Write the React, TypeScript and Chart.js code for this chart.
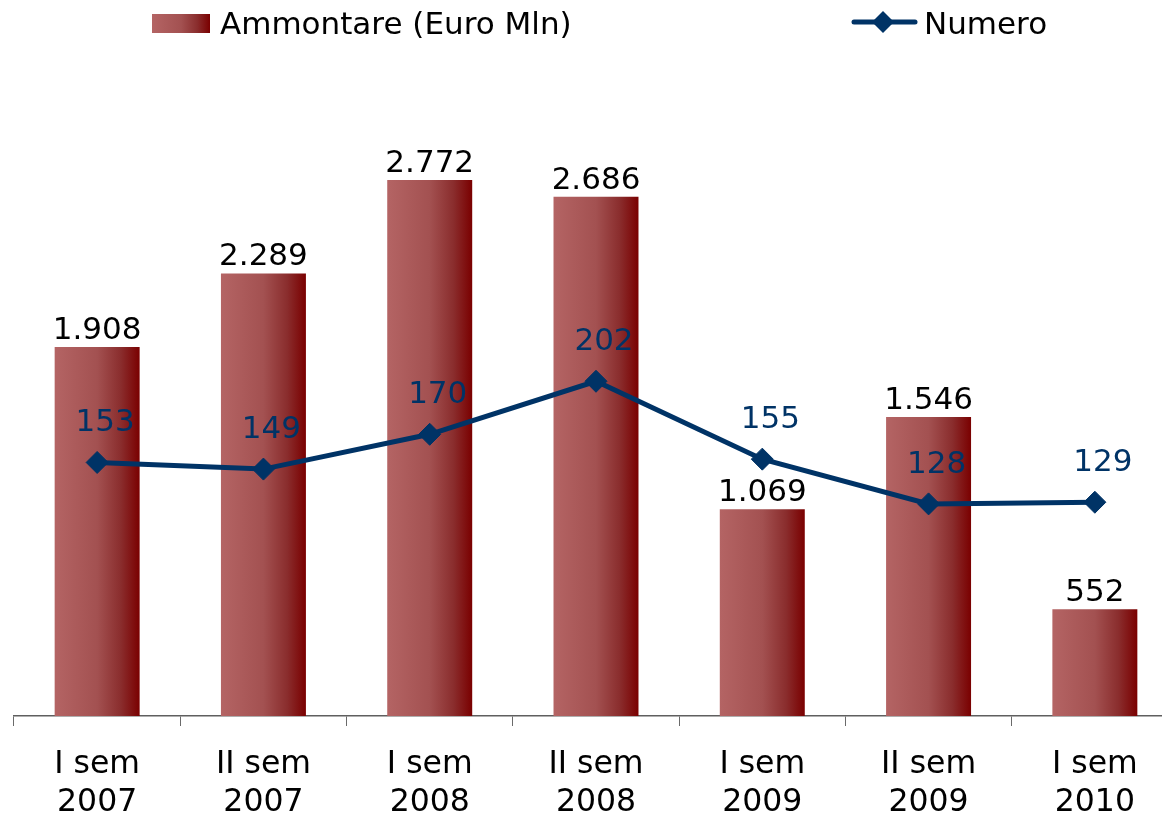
import React, { useEffect, useRef } from "react";
import { Chart, registerables } from "chart.js";

Chart.register(...registerables);

const categories: string[][] = [
  ["I sem", "2007"],
  ["II sem", "2007"],
  ["I sem", "2008"],
  ["II sem", "2008"],
  ["I sem", "2009"],
  ["II sem", "2009"],
  ["I sem", "2010"],
];
const ammontare: number[] = [1908, 2289, 2772, 2686, 1069, 1546, 552];
const numero: number[] = [153, 149, 170, 202, 155, 128, 129];
const seriesNames: string[] = ["Ammontare (Euro Mln)", "Numero"];

const FONT = "'DejaVu Sans', Verdana, sans-serif";
const NAVY = "#003366";

function fmt(v: number): string {
  return String(v).replace(/\B(?=(\d{3})+(?!\d))/g, ".");
}

function barGradient(ctx: CanvasRenderingContext2D, x0: number, x1: number) {
  const g = ctx.createLinearGradient(x0, 0, x1, 0);
  g.addColorStop(0, "#b46464");
  g.addColorStop(0.5, "#a35151");
  g.addColorStop(0.78, "#8a2d2d");
  g.addColorStop(1, "#7a0000");
  return g;
}

const gradientPlugin = {
  id: "barGradient",
  beforeDatasetsDraw(chart: any) {
    const ctx = chart.ctx;
    chart.data.datasets.forEach((ds: any, i: number) => {
      if (ds.type !== "bar") return;
      const meta = chart.getDatasetMeta(i);
      meta.data.forEach((el: any) => {
        const g = barGradient(ctx, el.x - el.width / 2, el.x + el.width / 2);
        el.options = Object.assign({}, el.options, { backgroundColor: g });
      });
    });
  },
};

const labelsPlugin = {
  id: "valueLabels",
  afterDatasetsDraw(chart: any) {
    const ctx = chart.ctx;
    ctx.save();
    ctx.font = `31px ${FONT}`;
    ctx.textAlign = "center";
    ctx.textBaseline = "alphabetic";
    chart.data.datasets.forEach((ds: any, i: number) => {
      const meta = chart.getDatasetMeta(i);
      meta.data.forEach((el: any, j: number) => {
        const v = ds.data[j];
        if (ds.type === "bar") {
          ctx.fillStyle = "#000000";
          ctx.fillText(fmt(v), el.x, el.y - 8);
        } else {
          ctx.fillStyle = NAVY;
          ctx.fillText(fmt(v), el.x + 8, el.y - 31);
        }
      });
    });
    ctx.restore();
  },
};

const legendPlugin = {
  id: "customLegend",
  afterDraw(chart: any) {
    const ctx = chart.ctx;
    ctx.save();
    ctx.fillStyle = barGradient(ctx, 152, 210);
    ctx.fillRect(152, 14, 58, 19);
    ctx.font = `31px ${FONT}`;
    ctx.textAlign = "left";
    ctx.textBaseline = "alphabetic";
    ctx.fillStyle = "#000000";
    ctx.fillText(seriesNames[0], 220, 34);
    ctx.strokeStyle = NAVY;
    ctx.lineWidth = 5;
    ctx.lineCap = "round";
    ctx.beginPath();
    ctx.moveTo(854, 22);
    ctx.lineTo(915, 22);
    ctx.stroke();
    ctx.fillStyle = NAVY;
    ctx.beginPath();
    ctx.moveTo(883 - 11, 22);
    ctx.lineTo(883, 11);
    ctx.lineTo(883 + 11, 22);
    ctx.lineTo(883, 33);
    ctx.closePath();
    ctx.fill();
    ctx.fillStyle = "#000000";
    ctx.fillText(seriesNames[1], 924, 34);
    ctx.restore();
  },
};

export default function App() {
  const ref = useRef<HTMLCanvasElement | null>(null);

  useEffect(() => {
    if (!ref.current) return;
    const chart = new Chart(ref.current, {
      type: "bar",
      data: {
        labels: categories,
        datasets: [
          {
            type: "line",
            label: seriesNames[1],
            data: numero,
            yAxisID: "y1",
            borderColor: NAVY,
            backgroundColor: NAVY,
            borderWidth: 5,
            pointStyle: "rectRot",
            pointRadius: 11,
            pointBorderWidth: 1,
            pointBackgroundColor: NAVY,
            pointBorderColor: NAVY,
            tension: 0,
            order: 0,
          } as any,
          {
            type: "bar",
            label: seriesNames[0],
            data: ammontare,
            yAxisID: "y",
            backgroundColor: "#a45252",
            barPercentage: 0.511,
            categoryPercentage: 1,
            order: 1,
          } as any,
        ],
      },
      options: {
        responsive: false,
        animation: false,
        layout: { autoPadding: false, padding: { left: 14, top: 136, right: 0, bottom: 0 } },
        plugins: {
          legend: { display: false },
          tooltip: { enabled: false },
        },
        scales: {
          x: {
            offset: true,
            afterFit: (s: any) => {
              s.height = 100;
            },
            grid: {
              offset: true,
              display: true,
              drawOnChartArea: false,
              drawTicks: true,
              tickLength: 10,
              color: "#6a6a6a",
              lineWidth: 1,
            },
            border: { display: true, color: "#5f5f5f", width: 1.5 },
            ticks: {
              color: "#000000",
              padding: 20,
              font: { family: FONT, size: 31.5, lineHeight: 1.2 },
              maxRotation: 0,
              autoSkip: false,
            },
          },
          y: { display: false, min: 0, max: 3000 },
          y1: { display: false, min: 0, max: 350 },
        },
      },
      plugins: [gradientPlugin, labelsPlugin, legendPlugin],
    });
    return () => chart.destroy();
  }, []);

  return (
    <div
      style={{
        position: "absolute",
        left: 0,
        top: 0,
        width: 1162,
        height: 816,
        overflow: "hidden",
        background: "#ffffff",
      }}
    >
      <canvas ref={ref} width={1178} height={816} style={{ width: 1178, height: 816, display: "block" }} />
    </div>
  );
}
